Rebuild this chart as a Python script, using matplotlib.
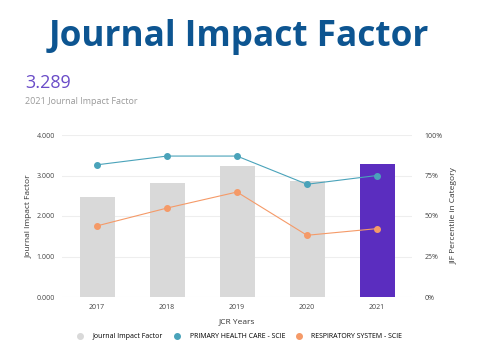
import matplotlib.pyplot as plt
from matplotlib.lines import Line2D

years = ['2017', '2018', '2019', '2020', '2021']
jif = [2.48, 2.82, 3.23, 2.86, 3.289]
primary_health = [81.6, 87.0, 87.0, 69.6, 75.0]
respiratory = [43.9, 54.9, 64.8, 38.1, 42.2]

plt.rcParams['font.family'] = ['Open Sans', 'DejaVu Sans']

fig = plt.figure(figsize=(4.8, 3.6), dpi=100)
ax = fig.add_axes([62 / 480, 1 - 297 / 360, 350 / 480, 162 / 360])

x = list(range(len(years)))
bar_colors = ['#d9d9d9'] * (len(years) - 1) + ['#5b2dbf']
ax.bar(x, jif, width=0.5, color=bar_colors, zorder=2)
ax.set_ylim(0, 4)
ax.set_xlim(-0.5, 4.5)
ax.set_yticks([0, 1, 2, 3, 4])
ax.set_yticklabels(['0.000', '1.000', '2.000', '3.000', '4.000'])
ax.set_xticks(x)
ax.set_xticklabels(years)
ax.grid(axis='y', color='#eeeeee', linewidth=0.8, zorder=0)
ax.tick_params(length=0, labelsize=5, colors='#444444', pad=5)
ax.set_ylabel('Journal Impact Factor', fontsize=6, color='#333333', labelpad=3)
ax.set_xlabel('JCR Years', fontsize=6, color='#333333', labelpad=5)
for s in ax.spines.values():
    s.set_visible(False)

ax2 = ax.twinx()
ax2.plot(x, primary_health, color='#4aa3ba', marker='o', markersize=4, linewidth=0.8, zorder=3)
ax2.plot(x, respiratory, color='#f59a68', marker='o', markersize=4, linewidth=0.8, zorder=3)
ax2.set_ylim(0, 100)
ax2.set_yticks([0, 25, 50, 75, 100])
ax2.set_yticklabels(['0%', '25%', '50%', '75%', '100%'])
ax2.tick_params(length=0, labelsize=5, colors='#444444', pad=9)
ax2.set_ylabel('JIF Percentile in Category', fontsize=6, color='#333333', labelpad=6)
for s in ax2.spines.values():
    s.set_visible(False)

# legend
handles = [
    Line2D([], [], linestyle='none', marker='o', markersize=4, color='#d9d9d9'),
    Line2D([], [], linestyle='none', marker='o', markersize=4, color='#4aa3ba'),
    Line2D([], [], linestyle='none', marker='o', markersize=4, color='#f59a68'),
]
labels = ['Journal Impact Factor', 'PRIMARY HEALTH CARE - SCIE', 'RESPIRATORY SYSTEM - SCIE']
fig.legend(handles, labels, loc='center', bbox_to_anchor=(238 / 480, 1 - 337 / 360), ncol=3,
           frameon=False, fontsize=5, handletextpad=0.8, columnspacing=1.0)

# header texts
fig.text(239 / 480, 1 - 37 / 360, 'Journal Impact Factor', ha='center', va='center',
         fontsize=25.3, fontweight='bold', color='#0d5591')
fig.text(25 / 480, 1 - 83 / 360, '3.289', ha='left', va='center', fontsize=13, color='#6a4cc8')
fig.text(25 / 480, 1 - 101 / 360, '2021 Journal Impact Factor', ha='left', va='center',
         fontsize=6.5, color='#9a9a9a')

plt.savefig('out.png', dpi=100)
